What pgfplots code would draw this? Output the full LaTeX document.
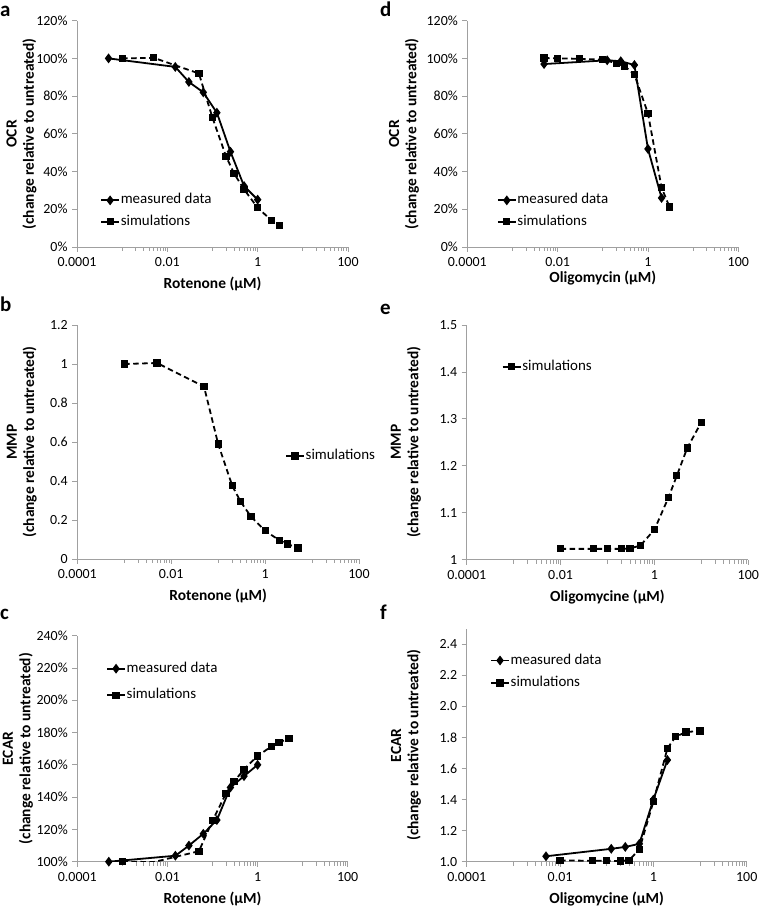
\documentclass[border=0pt]{standalone}
\usepackage{fontspec}
\setmainfont{Carlito}
\usepackage{pgfplots}
\pgfplotsset{compat=1.18}

\definecolor{axgray}{HTML}{A0A0A0}

\pgfplotsset{
  legend image code/.code={\draw[mark repeat=2,mark phase=2,#1,solid] plot coordinates {(0bp,0bp) (9bp,0bp) (18bp,0bp)};},
  every axis/.append style={
    scale only axis,
    anchor=south west,
    xmode=log,
    xmin=1e-4, xmax=100,
    xtick={1e-4,1e-2,1,100},
    xticklabels={0.0001,0.01,1,100},
    minor xtick={1e-3,2e-3,3e-3,4e-3,5e-3,6e-3,7e-3,8e-3,9e-3,0.1,0.2,0.3,0.4,0.5,0.6,0.7,0.8,0.9,10,20,30,40,50,60,70,80,90},
    axis x line=bottom, axis y line=left,
    axis line style={draw=axgray, line width=0.8bp, -},
    tick style={draw=axgray, line width=0.8bp},
    tick align=outside,
    major tick length=5bp, minor tick length=4bp,
    tick label style={font=\fontsize{14}{16}\selectfont},
    xticklabel style={yshift=-2bp},
    yticklabel style={xshift=-1bp},
    legend cell align=left,
    legend style={draw=none, fill=none, inner sep=0pt, font=\fontsize{15}{17}\selectfont,
      nodes={inner sep=0.75bp, text height=10.5bp, text depth=3.5bp}},
  },
  every axis x label/.style={at={(rel axis cs:0.5,0)}, anchor=center, yshift=-37bp, font=\fontsize{15.5}{17}\selectfont\bfseries},
  every axis y label/.style={at={(rel axis cs:0,0.5)}, anchor=center, rotate=90, yshift=55.5bp, align=center, font=\fontsize{15.5}{17.5}\selectfont\bfseries},
  measline/.style={black, line width=1.8bp, mark=diamond*, mark size=3.5bp, mark options={solid}},
  simline/.style={black, line width=1.8bp, dash pattern=on 5.5bp off 3.5bp, mark=square*, mark size=2.7bp, mark options={solid}},
}

\begin{document}
\begin{tikzpicture}[x=1bp,y=1bp]
\path[use as bounding box] (0,0) rectangle (761,908);

% a
\begin{axis}[at={(77bp,661bp)}, width=271bp, height=226.3bp,
  ymin=0, ymax=120, ytick={0,20,...,120},
  yticklabels={0\%,20\%,40\%,60\%,80\%,100\%,120\%},
  xlabel={Rotenone (µM)}, ylabel={OCR\\(change relative to untreated)},
  legend style={at={(0.085,0.241)}, anchor=north west, row sep=6bp}]
\addplot[measline] coordinates {(0.0005,100) (0.015,95.5) (0.03,87.5) (0.0625,82) (0.125,71.2) (0.25,50.5) (0.5,32.3) (1,25.1)};
\addplot[simline] coordinates {(0.001,100) (0.005,100.3) (0.05,92) (0.1,68.5) (0.2,48) (0.3,39) (0.5,30.5) (1,20.8) (2,14.2) (3,11.5)};
\legend{measured data,simulations}
\end{axis}

% b
\begin{axis}[at={(77.3bp,349bp)}, width=281.7bp, height=234bp,
  ymin=0, ymax=1.2, ytick={0,0.2,...,1.2},
  yticklabels={0,0.2,0.4,0.6,0.8,1,1.2},
  xlabel={Rotenone (µM)}, ylabel={MMP\\(change relative to untreated)},
  legend style={at={(0.737,0.44)}, anchor=west}]
\addplot[simline] coordinates {(0.001,1.0) (0.005,1.005) (0.05,0.884) (0.1,0.59) (0.2,0.375) (0.3,0.295) (0.5,0.217) (1,0.145) (2,0.096) (3,0.077) (5,0.056)};
\legend{simulations}
\end{axis}

% c
\begin{axis}[at={(77.3bp,46.3bp)}, width=270.4bp, height=226bp,
  ymin=100, ymax=240, ytick={100,120,...,240},
  yticklabels={100\%,120\%,140\%,160\%,180\%,200\%,220\%,240\%},
  xlabel={Rotenone (µM)}, ylabel={ECAR\\(change relative to untreated)},
  ylabel style={yshift=4bp},
  legend style={at={(0.106,0.889)}, anchor=north west, row sep=11bp}]
\addplot[measline] coordinates {(0.0005,100) (0.015,103.7) (0.03,110) (0.0625,117.3) (0.125,125.8) (0.25,146) (0.5,153) (1,160)};
\addplot[simline] coordinates {(0.001,100) (0.005,99.8) (0.05,106.5) (0.1,125.4) (0.2,142.4) (0.3,149.6) (0.5,157.2) (1,165.5) (2,171.3) (3,173.8) (5,176.5)};
\legend{measured data,simulations}
\end{axis}

% d
\begin{axis}[at={(467.3bp,661bp)}, width=271bp, height=226.3bp,
  ymin=0, ymax=120, ytick={0,20,...,120},
  yticklabels={0\%,20\%,40\%,60\%,80\%,100\%,120\%},
  xlabel={Oligomycin (µM)}, ylabel={OCR\\(change relative to untreated)},
  xlabel style={yshift=6bp},
  ylabel style={yshift=7.8bp},
  legend style={at={(0.1085,0.241)}, anchor=north west, row sep=6bp}]
\addplot[measline] coordinates {(0.005,97) (0.125,99) (0.25,98.5) (0.5,96.5) (1,52) (2,26)};
\addplot[simline] coordinates {(0.005,100.2) (0.01,100) (0.03,99.8) (0.1,99.3) (0.2,97.5) (0.3,96) (0.5,91.5) (1,70.8) (2,31.5) (3,21.2)};
\legend{measured data,simulations}
\end{axis}

% e
\begin{axis}[at={(466.7bp,348.3bp)}, width=281.6bp, height=234.7bp,
  ymin=1, ymax=1.5, ytick={1,1.1,...,1.5},
  yticklabels={1,1.1,1.2,1.3,1.4,1.5},
  xlabel={Oligomycine (µM)}, ylabel={MMP\\(change relative to untreated)},
  ylabel style={yshift=5.2bp},
  legend style={at={(0.124,0.822)}, anchor=west}]
\addplot[simline] coordinates {(0.01,1.023) (0.05,1.023) (0.1,1.023) (0.2,1.023) (0.3,1.024) (0.5,1.03) (1,1.064) (2,1.133) (3,1.179) (5,1.238) (10,1.293)};
\legend{simulations}
\end{axis}

% f
\begin{axis}[at={(466.7bp,46.3bp)}, width=280bp, height=232.9bp,
  ymin=1, ymax=2.5, ytick={1,1.2,...,2.4},
  yticklabels={1.0,1.2,1.4,1.6,1.8,2.0,2.2,2.4},
  xlabel={Oligomycine (µM)}, ylabel={ECAR\\(change relative to untreated)},
  ylabel style={yshift=5.2bp},
  legend style={at={(0.083,0.898)}, anchor=north west, row sep=7bp}]
\addplot[measline] coordinates {(0.005,1.035) (0.125,1.083) (0.25,1.095) (0.5,1.115) (1,1.40) (2,1.655)};
\addplot[simline] coordinates {(0.01,1.008) (0.05,1.006) (0.1,1.006) (0.2,1.004) (0.3,1.01) (0.5,1.078) (1,1.387) (2,1.73) (3,1.805) (5,1.835) (10,1.842)};
\legend{measured data,simulations}
\end{axis}

% panel letters
\begin{scope}[every node/.style={anchor=base west, inner sep=0pt, font=\fontsize{21}{21}\selectfont\bfseries}]
\node at (0,891.3) {a};
\node at (0,596.3) {b};
\node at (0,288) {c};
\node at (380,891.3) {d};
\node at (380,593) {e};
\node at (380,288) {f};
\end{scope}
\end{tikzpicture}
\end{document}
